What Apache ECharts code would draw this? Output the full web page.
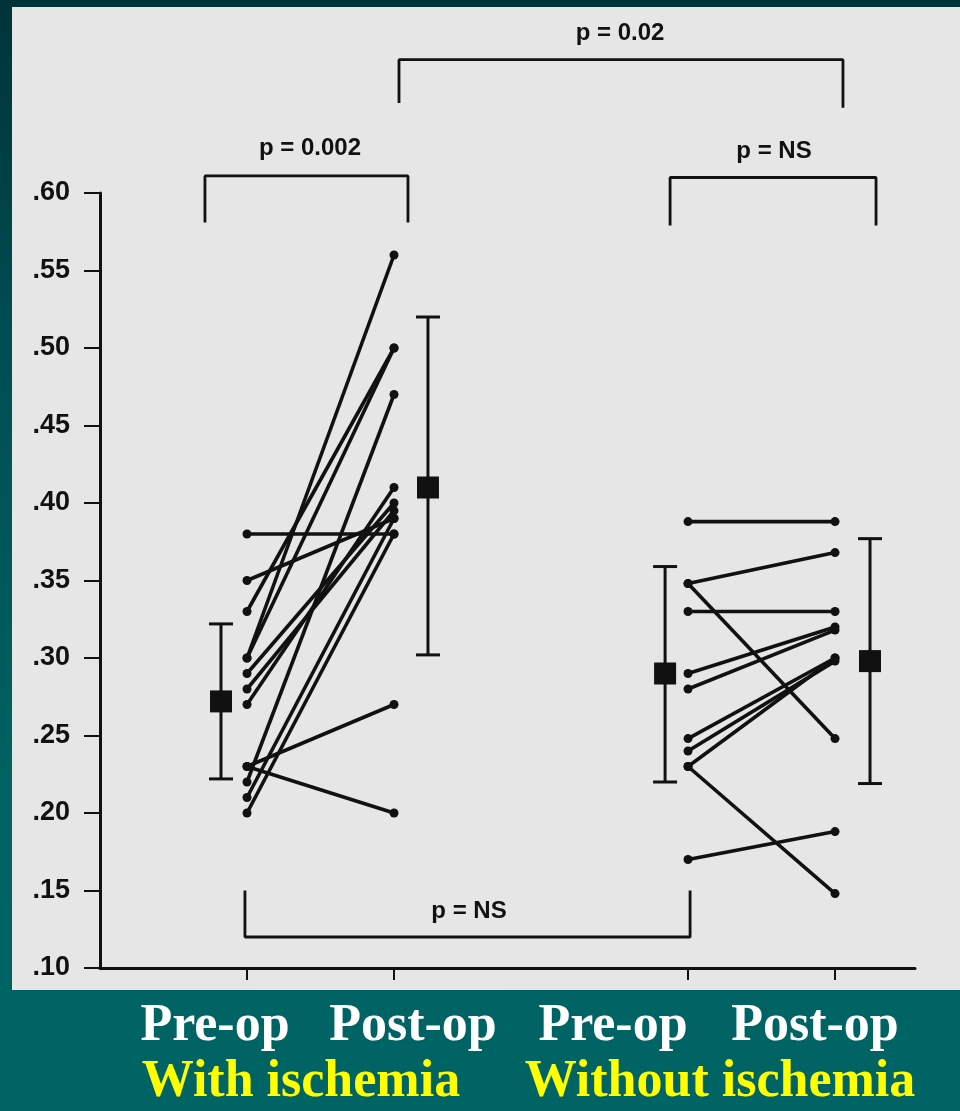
<!DOCTYPE html>
<html>
<head>
<meta charset="utf-8">
<script src="https://cdn.jsdelivr.net/npm/echarts@6/dist/echarts.min.js"></script>
<style>
  html, body { margin: 0; padding: 0; }
  body { width: 960px; height: 1111px; position: relative; overflow: hidden;
         background: linear-gradient(to bottom, #00333a 0%, #004d52 30%, #006262 70%, #006464 100%); }
  #paper { position: absolute; left: 12px; top: 7px; width: 948px; height: 983px; background: #e6e6e6; }
  #chart { position: absolute; left: 0; top: 0; width: 960px; height: 1111px; }
</style>
</head>
<body>
<div id="paper"></div>
<div id="chart"></div>
<script>
// ---- data ----
const categories = ['Pre-op', 'Post-op', 'Pre-op', 'Post-op'];
const groups = ['With ischemia', 'Without ischemia'];
const withIschemiaPre  = [0.380, 0.350, 0.330, 0.300, 0.300, 0.290, 0.280, 0.270, 0.230, 0.230, 0.220, 0.210, 0.200];
const withIschemiaPost = [0.380, 0.390, 0.500, 0.560, 0.500, 0.400, 0.395, 0.410, 0.270, 0.200, 0.470, 0.390, 0.380];
const withoutIschemiaPre  = [0.388, 0.348, 0.348, 0.330, 0.290, 0.280, 0.248, 0.240, 0.230, 0.230, 0.170];
const withoutIschemiaPost = [0.388, 0.368, 0.248, 0.330, 0.320, 0.318, 0.300, 0.298, 0.300, 0.148, 0.188];
const meanValues = [0.272, 0.410, 0.290, 0.298];
const sdLow      = [0.222, 0.302, 0.220, 0.219];
const sdHigh     = [0.322, 0.520, 0.359, 0.377];
const yTickLabels = ['.10', '.15', '.20', '.25', '.30', '.35', '.40', '.45', '.50', '.55', '.60'];
const pLabels = ['p = 0.002', 'p = 0.02', 'p = NS', 'p = NS'];

// ---- layout ----
const catX = [1, 2, 4, 5];
const meanX = [0.823, 2.231, 3.844, 5.238];
const INK = '#111';

const chart = echarts.init(document.getElementById('chart'), null, { renderer: 'canvas' });

const series = [];
function addPairs(pre, post, x0, x1) {
  pre.forEach((v, i) => {
    series.push({
      type: 'line', silent: true, animation: false, z: 3,
      data: [[x0, v], [x1, post[i]]],
      symbol: 'circle', symbolSize: 9, showSymbol: true,
      lineStyle: { color: INK, width: 3.6 },
      itemStyle: { color: INK }
    });
  });
}
addPairs(withIschemiaPre, withIschemiaPost, catX[0], catX[1]);
addPairs(withoutIschemiaPre, withoutIschemiaPost, catX[2], catX[3]);

// mean +/- SD markers
series.push({
  type: 'custom', silent: true, animation: false, z: 4, clip: false,
  data: meanValues.map((m, i) => [meanX[i], m, sdLow[i], sdHigh[i]]),
  renderItem: function (params, api) {
    const x = api.value(0);
    const pm = api.coord([x, api.value(1)]);
    const pl = api.coord([x, api.value(2)]);
    const ph = api.coord([x, api.value(3)]);
    const cap = 12, sq = 11;
    const ls = { stroke: INK, lineWidth: 3 };
    return {
      type: 'group',
      children: [
        { type: 'line', shape: { x1: pm[0], y1: ph[1], x2: pm[0], y2: pl[1] }, style: ls },
        { type: 'line', shape: { x1: pm[0] - cap, y1: ph[1], x2: pm[0] + cap, y2: ph[1] }, style: ls },
        { type: 'line', shape: { x1: pm[0] - cap, y1: pl[1], x2: pm[0] + cap, y2: pl[1] }, style: ls },
        { type: 'rect', shape: { x: pm[0] - sq, y: pm[1] - sq, width: 2 * sq, height: 2 * sq }, style: { fill: INK } }
      ]
    };
  }
});

// significance brackets
const brackets = [
  [[0.714, 0.581], [0.714, 0.611], [2.095, 0.611], [2.095, 0.581]],
  [[2.034, 0.658], [2.034, 0.686], [5.054, 0.686], [5.054, 0.655]],
  [[3.878, 0.579], [3.878, 0.610], [5.279, 0.610], [5.279, 0.579]],
  [[0.986, 0.150], [0.986, 0.120], [4.014, 0.120], [4.014, 0.150]]
];
brackets.forEach(b => series.push({
  type: 'line', silent: true, animation: false, clip: false, z: 2,
  data: b, symbol: 'none', lineStyle: { color: INK, width: 2.8 }
}));

const pPos = [[310, 148], [620, 33], [774, 151], [469, 911]];
const graphics = pLabels.map((t, i) => ({
  type: 'text', x: pPos[i][0], y: pPos[i][1], silent: true,
  style: { text: t, fill: INK, font: 'bold 24px "Liberation Sans", Arial, sans-serif',
           textAlign: 'center', textVerticalAlign: 'middle' }
}));
const catLabelX = [215, 413, 613, 815];
categories.forEach((c, i) => graphics.push({
  type: 'text', x: catLabelX[i], y: 1027, silent: true,
  style: { text: c, fill: '#ffffff', font: 'bold 52px "Liberation Serif", "Times New Roman", serif',
           textAlign: 'center', textVerticalAlign: 'middle' }
}));
const groupLabelX = [301, 720];
groups.forEach((g, i) => graphics.push({
  type: 'text', x: groupLabelX[i], y: 1083, silent: true,
  style: { text: g, fill: '#ffff00', font: 'bold 52px "Liberation Serif", "Times New Roman", serif',
           textAlign: 'center', textVerticalAlign: 'middle' }
}));

chart.setOption({
  animation: false,
  backgroundColor: 'transparent',
  grid: { left: 100, right: 45, top: 193, bottom: 143 },
  xAxis: {
    type: 'value', min: 0, max: 5.544,
    axisLine: { onZero: false, lineStyle: { color: INK, width: 3 } },
    axisTick: { show: true, customValues: catX, length: 12, lineStyle: { color: INK, width: 2 } },
    axisLabel: { show: false },
    splitLine: { show: false }
  },
  yAxis: {
    type: 'value', min: 0.10, max: 0.60, interval: 0.05,
    axisLine: { show: true, onZero: false, lineStyle: { color: INK, width: 3 } },
    axisTick: { show: true, length: 16, lineStyle: { color: INK, width: 2 } },
    axisLabel: {
      margin: 30, color: INK, fontSize: 27, fontWeight: 'bold', fontFamily: '"Liberation Sans", Arial, sans-serif',
      formatter: v => yTickLabels[Math.round((v - 0.10) / 0.05)]
    },
    splitLine: { show: false }
  },
  graphic: graphics,
  series: series
});
</script>
</body>
</html>
